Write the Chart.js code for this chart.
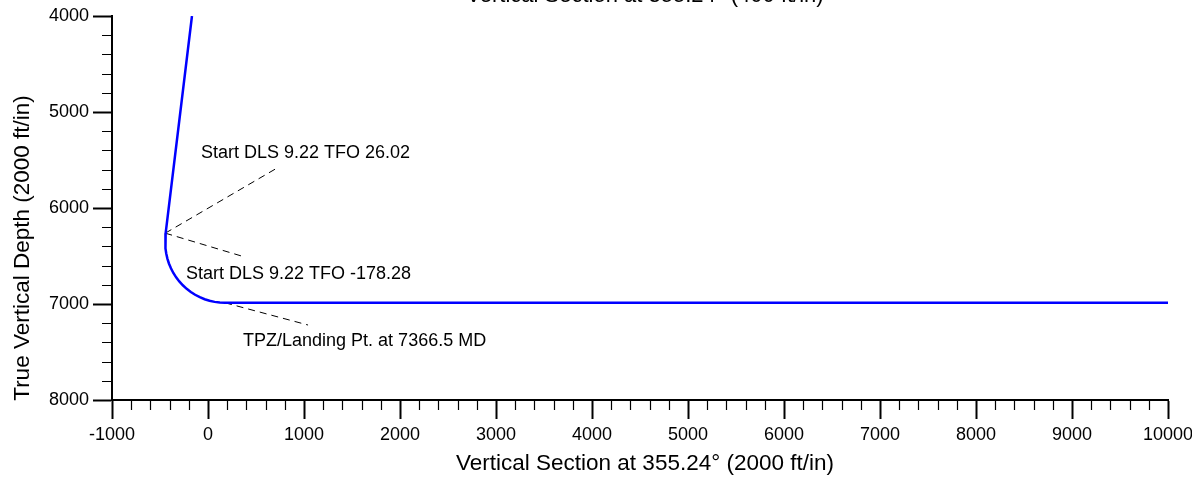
<!DOCTYPE html>
<html>
<head>
<meta charset="utf-8">
<title>Vertical Section</title>
<script src="https://cdn.jsdelivr.net/npm/chart.js@4/dist/chart.umd.min.js"></script>
<style>
  html, body { margin: 0; padding: 0; background: #fff; }
  #wrap { width: 1192px; height: 478px; }
</style>
</head>
<body>
<div id="wrap"><canvas id="vsChart" width="1192" height="478"></canvas></div>
<script>
// well path (vertical section ft, true vertical depth ft)
const pathVS  = [-167, -441, -443, -444, -442, -435, -423, -407, -386, -361, -332, -299, -262, -222, -179, -134, -85, -35, 16, 69, 123, 177, 10000];
const pathTVD = [4000, 6262, 6333, 6366, 6420, 6474, 6527, 6578, 6628, 6677, 6722, 6765, 6805, 6842, 6875, 6904, 6929, 6950, 6966, 6978, 6985, 6987, 6987];

// annotation leaders: start point on the path, end point near the label
const leaderFromVS  = [-445, -445, 177];
const leaderFromTVD = [6262, 6262, 6987];
const leaderToVS    = [719, 385, 1042];
const leaderToTVD   = [5584, 6511, 7219];

const labelText = ['Start DLS 9.22 TFO 26.02', 'Start DLS 9.22 TFO -178.28', 'TPZ/Landing Pt. at 7366.5 MD'];
const labelVS   = [-73, -229, 365];
const labelTVD  = [5427, 6689, 7387];

const topTitle = 'Vertical Section at 355.24\u00b0 (400 ft/in)';
const xTitle = 'Vertical Section at 355.24\u00b0 (2000 ft/in)';
const yTitle = 'True Vertical Depth (2000 ft/in)';

const FONT = "'Liberation Sans', Arial, sans-serif";

const pathData = pathVS.map((v, i) => ({ x: v, y: pathTVD[i] }));

const leaderSets = leaderFromVS.map((v, i) => ({
    data: [{ x: v, y: leaderFromTVD[i] }, { x: leaderToVS[i], y: leaderToTVD[i] }],
    borderColor: '#000',
    borderWidth: 1,
    borderDash: [7, 5],
    pointRadius: 0,
    showLine: true,
    tension: 0
}));

// minor ticks every 200 ft, drawn on the library scales
const minorTicks = {
    id: 'minorTicks',
    afterDraw(chart) {
        const ctx = chart.ctx;
        const xs = chart.scales.x;
        const ys = chart.scales.y;
        ctx.save();
        ctx.strokeStyle = '#000';
        ctx.lineWidth = 1.2;
        ctx.beginPath();
        for (let v = xs.min; v <= xs.max; v += 200) {
            if (v % 1000 === 0) continue;
            const px = Math.round(xs.getPixelForValue(v)) + 0.5;
            ctx.moveTo(px, ys.bottom);
            ctx.lineTo(px, ys.bottom + 10);
        }
        for (let v = ys.min; v <= ys.max; v += 200) {
            if (v % 1000 === 0) continue;
            const py = Math.round(ys.getPixelForValue(v)) + 0.5;
            ctx.moveTo(xs.left - 10, py);
            ctx.lineTo(xs.left, py);
        }
        ctx.stroke();
        ctx.restore();
    }
};

// annotation texts, axis titles and the clipped title at the very top
const textLayer = {
    id: 'textLayer',
    afterDraw(chart) {
        const ctx = chart.ctx;
        const xs = chart.scales.x;
        const ys = chart.scales.y;
        const midX = (chart.chartArea.left + chart.chartArea.right) / 2 + 5;
        ctx.save();
        ctx.fillStyle = '#000';
        ctx.font = '18px ' + FONT;
        ctx.textAlign = 'left';
        ctx.textBaseline = 'middle';
        labelText.forEach((t, i) => {
            ctx.fillText(t, xs.getPixelForValue(labelVS[i]), ys.getPixelForValue(labelTVD[i]));
        });

        ctx.font = '22.5px ' + FONT;
        ctx.textAlign = 'center';
        ctx.fillText(xTitle, midX, 464);

        ctx.save();
        ctx.translate(22.5, 248);
        ctx.rotate(-Math.PI / 2);
        ctx.fillText(yTitle, 0, 0);
        ctx.restore();

        ctx.font = '22px ' + FONT;
        ctx.textBaseline = 'alphabetic';
        ctx.fillText(topTitle, midX, 2);
        ctx.restore();
    }
};

const plainNumber = (value) => String(value);

const ctx = document.getElementById('vsChart').getContext('2d');
new Chart(ctx, {
    type: 'scatter',
    data: {
        datasets: [{
            data: pathData,
            borderColor: '#0000ff',
            borderWidth: 2.5,
            pointRadius: 0,
            showLine: true,
            tension: 0
        }, ...leaderSets]
    },
    options: {
        responsive: false,
        animation: false,
        devicePixelRatio: 1,
        layout: { padding: { top: 16, right: 24, left: 0, bottom: 0 } },
        plugins: {
            legend: { display: false },
            tooltip: { enabled: false }
        },
        scales: {
            x: {
                type: 'linear',
                position: 'bottom',
                min: -1000,
                max: 10000,
                ticks: {
                    stepSize: 1000,
                    autoSkip: false,
                    maxRotation: 0,
                    padding: 5,
                    color: '#000',
                    font: { family: FONT, size: 18 },
                    callback: plainNumber
                },
                grid: {
                    drawOnChartArea: false,
                    tickLength: 19,
                    tickWidth: 2,
                    tickColor: '#000'
                },
                border: { color: '#000', width: 2 },
                afterFit(scale) {
                    scale.height = 78;
                    scale.paddingLeft = 0;
                    scale.paddingRight = 0;
                }
            },
            y: {
                type: 'linear',
                reverse: true,
                min: 4000,
                max: 8000,
                ticks: {
                    stepSize: 1000,
                    autoSkip: false,
                    padding: 4,
                    color: '#000',
                    font: { family: FONT, size: 18 },
                    callback: plainNumber
                },
                grid: {
                    drawOnChartArea: false,
                    tickLength: 19,
                    tickWidth: 2,
                    tickColor: '#000'
                },
                border: { color: '#000', width: 2 },
                afterFit(scale) {
                    scale.width = 112;
                    scale.paddingTop = 0;
                    scale.paddingBottom = 0;
                }
            }
        }
    },
    plugins: [minorTicks, textLayer]
});
</script>
</body>
</html>
